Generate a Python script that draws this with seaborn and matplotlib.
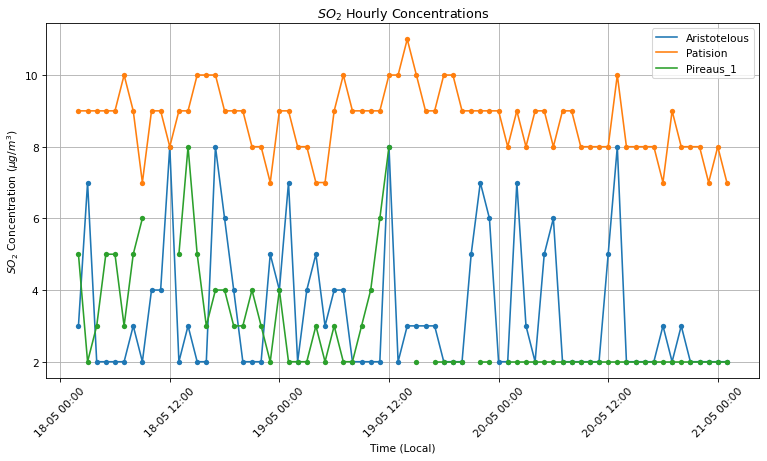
import numpy as np
import pandas as pd
import seaborn as sns
import matplotlib
matplotlib.use("Agg")
import matplotlib.pyplot as plt
import matplotlib.dates as mdates
from matplotlib.lines import Line2D

# hourly readings, 18-05 02:00 .. 21-05 01:00
start = pd.Timestamp("2023-05-18 02:00")
nan = np.nan

aristotelous = [3, 7, 2, 2, 2, 2, 3, 2, 4, 4, 8, 2, 3, 2, 2, 8, 6, 4, 2, 2,
                2, 5, 4, 7, 2, 4, 5, 3, 4, 4, 2, 2, 2, 2, 8, 2, 3, 3, 3, 3,
                2, 2, 2, 5, 7, 6, 2, 2, 7, 3, 2, 5, 6, 2, 2, 2, 2, 2, 5, 8,
                2, 2, 2, 2, 3, 2, 3, 2, 2, 2, 2, 2]
patision = [9, 9, 9, 9, 9, 10, 9, 7, 9, 9, 8, 9, 9, 10, 10, 10, 9, 9, 9, 8,
            8, 7, 9, 9, 8, 8, 7, 7, 9, 10, 9, 9, 9, 9, 10, 10, 11, 10, 9, 9,
            10, 10, 9, 9, 9, 9, 9, 8, 9, 8, 9, 9, 8, 9, 9, 8, 8, 8, 8, 10,
            8, 8, 8, 8, 7, 9, 8, 8, 8, 7, 8, 7]
pireaus_1 = [5, 2, 3, 5, 5, 3, 5, 6, nan, nan, nan, 5, 8, 5, 3, 4, 4, 3, 3, 4,
             3, 2, 4, 2, 2, 2, 3, 2, 3, 2, 2, 3, 4, 6, 8, nan, nan, 2, nan, 2,
             2, 2, 2, nan, 2, 2, nan, 2, 2, 2, 2, 2, 2, 2, 2, 2, 2, 2, 2, 2,
             2, 2, 2, 2, 2, 2, 2, 2, 2, 2, 2, 2]

stations = {"Aristotelous": aristotelous, "Patision": patision, "Pireaus_1": pireaus_1}
times = pd.date_range(start, periods=len(patision), freq="h")

frames = []
for name, vals in stations.items():
    d = pd.DataFrame({"time": times, "value": vals, "station": name})
    # split at gaps so missing hours stay unconnected
    d["segment"] = name + d["value"].isna().cumsum().astype(str)
    frames.append(d.dropna())
df = pd.concat(frames, ignore_index=True)

colors = sns.color_palette("tab10", 3)

fig, ax = plt.subplots(figsize=(10, 6.023), dpi=76.7)
sns.lineplot(data=df, x="time", y="value", hue="station", units="segment",
             estimator=None, marker="o", markersize=5, markeredgewidth=0,
             palette=colors, legend=False, ax=ax)

handles = [Line2D([], [], color=c, lw=1.5) for c in colors]
ax.legend(handles, list(stations.keys()), loc="upper right")

ax.set_title("$SO_2$ Hourly Concentrations")
ax.set_xlabel("Time (Local)")
ax.set_ylabel("$SO_2$ Concentration ($\\mu g/m^3$)")
ax.xaxis.set_major_locator(mdates.HourLocator(byhour=[0, 12]))
ax.xaxis.set_major_formatter(mdates.DateFormatter("%d-%m %H:%M"))
plt.xticks(rotation=45)
ax.grid(True)

fig.subplots_adjust(left=0.060, right=0.990, top=0.948, bottom=0.180)
fig.savefig("out.png")
